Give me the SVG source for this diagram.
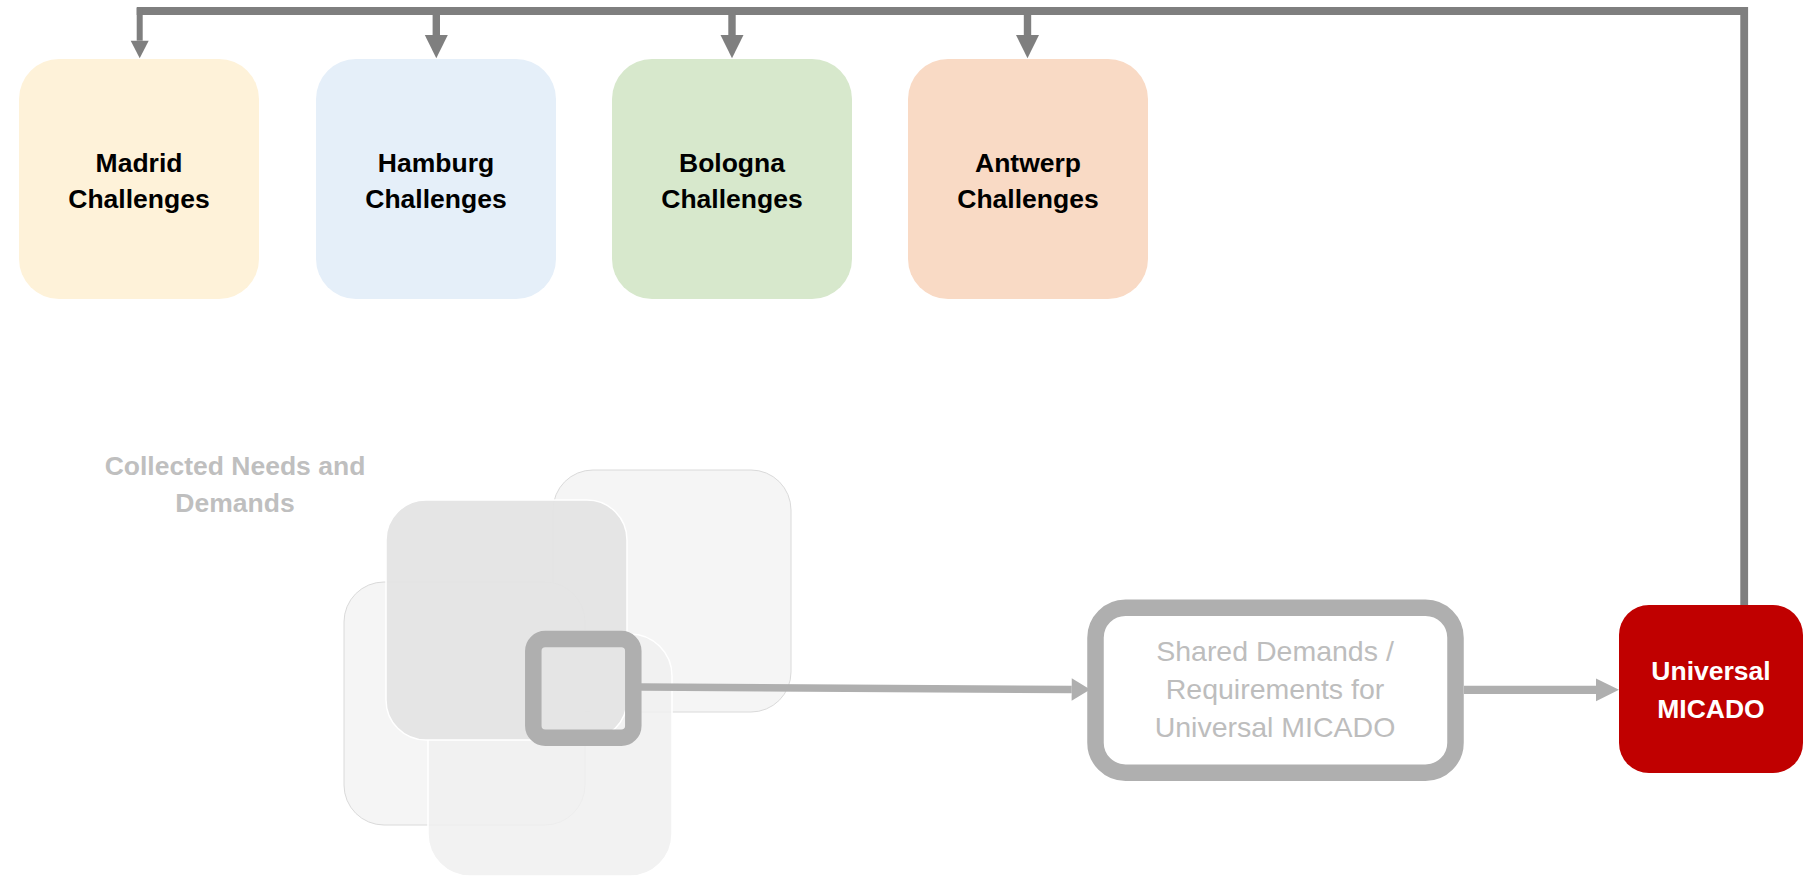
<svg xmlns="http://www.w3.org/2000/svg" width="1819" height="879" viewBox="0 0 1819 879">
  <style>
    .city { font-family: "Liberation Sans", Arial, sans-serif; font-weight: bold; font-size: 26.5px; fill: #000000; text-anchor: middle; }
    .grey-b { font-family: "Liberation Sans", Arial, sans-serif; font-weight: bold; font-size: 26.5px; fill: #BFBFBF; text-anchor: middle; }
    .grey-r { font-family: "Liberation Sans", Arial, sans-serif; font-size: 28.5px; fill: #BDBDBD; text-anchor: middle; }
    .white-b { font-family: "Liberation Sans", Arial, sans-serif; font-weight: bold; font-size: 26.5px; fill: #FFFFFF; text-anchor: middle; }
    .dark { fill: none; stroke: #7F7F7F; stroke-linecap: butt; stroke-linejoin: miter; }
    .light { fill: none; stroke: #AFAFAF; stroke-linecap: butt; }
    .sq-out { stroke: #DADADA; stroke-width: 1; }
  </style>
  <defs>
    <marker id="headBig" markerUnits="userSpaceOnUse" markerWidth="24" markerHeight="24" refX="0" refY="11.5" orient="auto" overflow="visible">
      <path d="M0,0 L23.3,11.5 L0,23 z" fill="#7F7F7F"/>
    </marker>
    <marker id="headSmall" markerUnits="userSpaceOnUse" markerWidth="19" markerHeight="19" refX="0" refY="9" orient="auto" overflow="visible">
      <path d="M0,0 L17.6,9 L0,18 z" fill="#7F7F7F"/>
    </marker>
    <marker id="headLight" markerUnits="userSpaceOnUse" markerWidth="24" markerHeight="24" refX="0" refY="11.3" orient="auto" overflow="visible">
      <path d="M0,0 L18.5,11.3 L0,22.6 z" fill="#AFAFAF"/>
    </marker>
    <marker id="headLight2" markerUnits="userSpaceOnUse" markerWidth="24" markerHeight="24" refX="0" refY="11.4" orient="auto" overflow="visible">
      <path d="M0,0 L23,11.4 L0,22.8 z" fill="#AFAFAF"/>
    </marker>
  </defs>

  <rect width="1819" height="879" fill="#FFFFFF"/>

  <g id="madrid">
    <rect x="19" y="59" width="240" height="240" rx="40" ry="40" fill="#FEF2D9"/>
    <text class="city" x="139" y="171.7">Madrid</text>
    <text class="city" x="139" y="208">Challenges</text>
  </g>
  <g id="hamburg">
    <rect x="316" y="59" width="240" height="240" rx="40" ry="40" fill="#E5EFF9"/>
    <text class="city" x="436" y="171.7">Hamburg</text>
    <text class="city" x="436" y="208">Challenges</text>
  </g>
  <g id="bologna">
    <rect x="612" y="59" width="240" height="240" rx="40" ry="40" fill="#D7E8CC"/>
    <text class="city" x="732" y="171.7">Bologna</text>
    <text class="city" x="732" y="208">Challenges</text>
  </g>
  <g id="antwerp">
    <rect x="908" y="59" width="240" height="240" rx="40" ry="40" fill="#F9DAC5"/>
    <text class="city" x="1028" y="171.7">Antwerp</text>
    <text class="city" x="1028" y="208">Challenges</text>
  </g>

  <g id="collected-needs">
    <text class="grey-b" x="235" y="475">Collected Needs and</text>
    <text class="grey-b" x="235" y="511.7">Demands</text>
    <rect class="sq-out" x="553" y="470" width="238" height="242" rx="40" ry="40" fill="#F5F5F5"/>
    <rect class="sq-out" x="344" y="582" width="241" height="243" rx="40" ry="40" fill="#F5F5F5"/>
    <rect x="428" y="634" width="244" height="242" rx="42" ry="42" fill="#F0F0F0" fill-opacity="0.85" stroke="#FFFFFF" stroke-width="1.5"/>
    <rect x="386" y="500" width="241" height="240" rx="40" ry="40" fill="#E4E4E4" fill-opacity="0.95" stroke="#FFFFFF" stroke-width="1.5"/>
    <rect x="533.3" y="639" width="100" height="98.7" rx="12" ry="12" fill="none" stroke="#AFAFAF" stroke-width="16.5"/>
  </g>

  <g id="shared-demands">
    <rect x="1095.5" y="607.7" width="360" height="165" rx="30" ry="30" fill="#FFFFFF" stroke="#AFAFAF" stroke-width="16.5"/>
    <text class="grey-r" x="1275" y="661">Shared Demands /</text>
    <text class="grey-r" x="1275" y="699">Requirements for</text>
    <text class="grey-r" x="1275" y="736.7">Universal MICADO</text>
  </g>

  <g id="universal-micado">
    <rect x="1619" y="605" width="184" height="168" rx="30" ry="30" fill="#C00000"/>
    <text class="white-b" x="1711" y="680">Universal</text>
    <text class="white-b" x="1711" y="717.7">MICADO</text>
  </g>

  <g id="connectors">
    <path class="dark" d="M1744.2,605 V11 H136.7" stroke-width="7.8"/>
    <path class="dark" d="M139.7,8 V40.7" stroke-width="6" marker-end="url(#headSmall)"/>
    <path class="dark" d="M436.3,11 V35" stroke-width="7.4" marker-end="url(#headBig)"/>
    <path class="dark" d="M732,11 V35" stroke-width="7.4" marker-end="url(#headBig)"/>
    <path class="dark" d="M1027.5,11 V35" stroke-width="7.4" marker-end="url(#headBig)"/>
    <path class="light" d="M641,687 L1071.7,689.5" stroke-width="7.5" marker-end="url(#headLight)"/>
    <path class="light" d="M1464,689.8 H1596" stroke-width="8.3" marker-end="url(#headLight2)"/>
  </g>
</svg>
